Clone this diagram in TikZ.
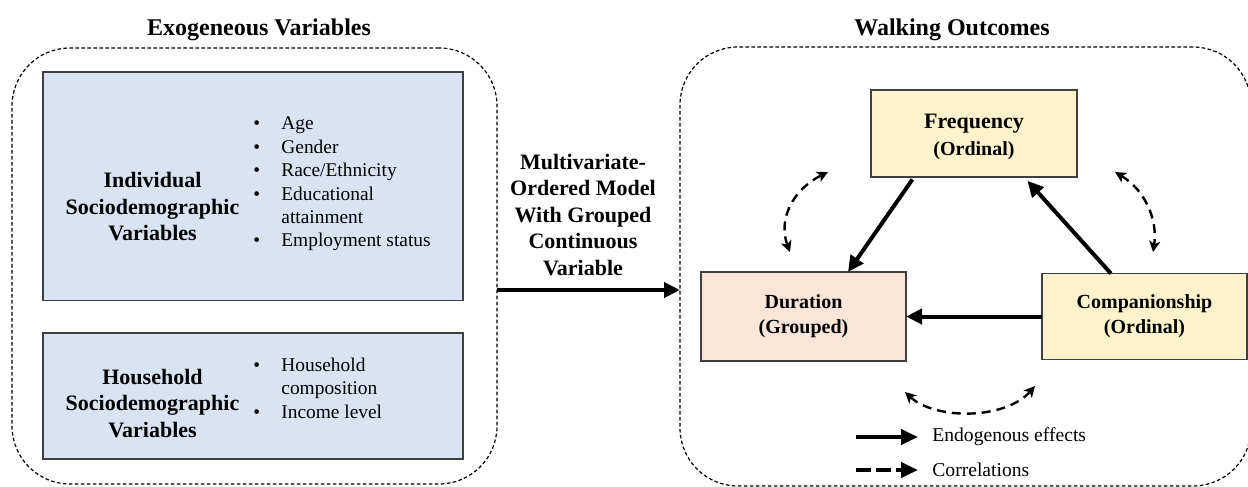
\documentclass[tikz,border=0pt]{standalone}
\usepackage{fontspec}
\setmainfont{Liberation Serif}
\usetikzlibrary{arrows.meta,calc}
\definecolor{bluefill}{HTML}{DAE3F3}
\definecolor{yelfill}{HTML}{FFF2CC}
\definecolor{orfill}{HTML}{FBE5D6}
\definecolor{boxline}{HTML}{3F3F3F}
\newcommand{\myitem}[1]{\makebox[14pt][l]{\textbullet}#1}
\tikzset{
  panel/.style={draw=black, line width=0.6pt, dash pattern=on 1.8pt off 1.2pt, rounded corners=29pt, inner sep=0pt, outer sep=0pt},
  varbox/.style={draw=boxline, line width=0.75pt, fill=bluefill, inner sep=0pt, outer sep=0pt},
  outbox/.style={draw=boxline, line width=0.75pt, inner sep=0pt, outer sep=0pt, align=center},
  boldlbl/.style={align=center, inner sep=0pt, font={\fontsize{11}{13.25}\selectfont\bfseries}},
  listtxt/.style={align=left, inner sep=0pt, font={\fontsize{9.7}{11.7}\selectfont}},
  titletxt/.style={inner sep=0pt, font={\fontsize{12}{14}\selectfont\bfseries}},
  effect/.style={line width=2pt, -{Triangle[length=8pt,width=7.5pt]}},
  corr/.style={line width=1.2pt, dash pattern=on 4.5pt off 3pt, {Stealth[length=5.5pt,width=5.5pt,inset=1.5pt]}-{Stealth[length=5.5pt,width=5.5pt,inset=1.5pt]}},
  legtxt/.style={anchor=west, inner sep=0pt, font={\fontsize{9.8}{12}\selectfont}}
}
\begin{document}
\begin{tikzpicture}[x=0.5pt,y=-0.5pt]
\clip (0,0) rectangle (1248,487);
\fill[white] (0,0) rectangle (1248,487);

% titles
\node[titletxt] (t1) at (259,30) {Exogeneous Variables};
\node[titletxt] (t2) at (952,30) {Walking Outcomes};

% panels
\node[panel, minimum width=242.5pt, minimum height=218pt] (lp) at (254.5,266) {};
\node[panel, minimum width=285.5pt, minimum height=219.5pt] (rp) at (965.5,266.5) {};

% left boxes
\node[varbox, minimum width=210pt, minimum height=114.25pt] (ind) at (253,186.25) {};
\node[boldlbl] (indt) at (152.5,207) {Individual\\Sociodemographic\\Variables};
\node[listtxt, anchor=west] (indl) at (253,184) {\myitem{Age}\\\myitem{Gender}\\\myitem{Race/Ethnicity}\\\myitem{Educational}\\\hspace*{14pt}attainment\\\myitem{Employment status}};

\node[varbox, minimum width=210pt, minimum height=63pt] (hh) at (253,396) {};
\node[boldlbl] (hht) at (152.5,403.5) {Household\\Sociodemographic\\Variables};
\node[listtxt, anchor=west] (hhl) at (253,388) {\myitem{Household}\\\hspace*{14pt}composition\\\myitem{Income level}};

% model label and arrow
\node[boldlbl] (model) at (583,215) {Multivariate-\\Ordered Model\\With Grouped\\Continuous\\Variable};
\coordinate (arr) at (0,290);
\draw[effect] (lp.east |- arr) -- (rp.west |- arr);

% outcome boxes
\node[outbox, fill=yelfill, minimum width=103pt, minimum height=43.5pt] (freq) at (974,133.5) {};
\node[align=center, inner sep=0pt] (freqt) at (974,137) {{\fontsize{11}{13.5}\selectfont\bfseries Frequency}\\[1.5pt]{\fontsize{10}{12}\selectfont\bfseries (Ordinal)}};
\node[outbox, fill=orfill, minimum width=102.5pt, minimum height=44.5pt, font={\fontsize{10}{12.5}\selectfont\bfseries}] (dur) at (803.5,316.5) {Duration\\(Grouped)};
\node[outbox, fill=yelfill, minimum width=102.5pt, minimum height=43pt, font={\fontsize{10}{12.5}\selectfont\bfseries}] (comp) at (1144.5,316.5) {Companionship\\(Ordinal)};

% endogenous effects
\draw[effect, shorten <=1.5pt] (freq.216.87) -- (dur.45);
\draw[effect, shorten >=2.5pt] (comp.128.74) -- (freq.-41.3);
\draw[effect] (comp.west) -- (comp.west -| dur.east);

% correlations
\coordinate (c1a) at (790,252);
\coordinate (c1b) at (828,172);
\draw[corr] (c1a) .. controls (778,220) and (792,190) .. (c1b);
\coordinate (c2a) at (1115,172);
\coordinate (c2b) at (1153,252);
\draw[corr] (c2a) .. controls (1145,190) and (1158,220) .. (c2b);
\coordinate (c3a) at (905,392);
\coordinate (c3b) at (1035,386);
\draw[corr] (c3a) .. controls (935,420) and (1005,420) .. (c3b);

% legend
\coordinate (l1a) at (856,437);
\coordinate (l1b) at (918,437);
\coordinate (l2a) at (856,470);
\coordinate (l2b) at (918,470);
\draw[line width=2pt, -{Triangle[length=8.5pt,width=7.5pt]}] (l1a) -- (l1b);
\draw[line width=2pt, dash pattern=on 7.5pt off 2.5pt, -{Triangle[length=8.5pt,width=7.5pt]}] (l2a) -- (l2b);
\node[legtxt] (lt1) at (932,437) {Endogenous effects};
\node[legtxt] (lt2) at (932,470) {Correlations};
\end{tikzpicture}
\end{document}
